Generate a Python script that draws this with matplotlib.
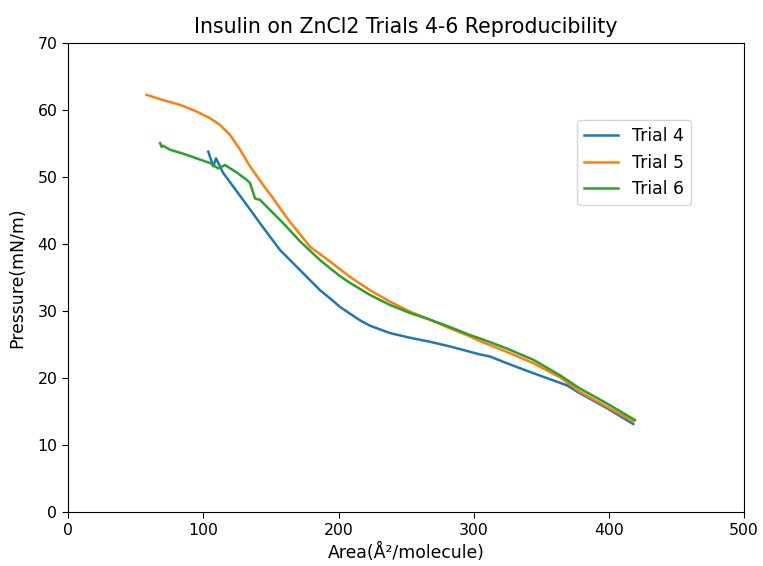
import matplotlib
matplotlib.use("Agg")
import matplotlib.pyplot as plt

trial4_x = [103.6, 107.3, 109.3, 114.7, 124.6, 127.1, 136.9, 141.9, 156.7, 171.5, 186.3, 193.6, 201.1, 208.4, 215.9, 223.2, 238.0, 252.8, 267.6, 282.4, 297.2, 304.6, 312.0, 324.4, 344.1, 368.8, 378.6, 398.4, 418.1]
trial4_y = [53.8, 51.6, 52.8, 50.6, 47.9, 47.2, 44.5, 43.1, 39.1, 36.1, 33.1, 31.9, 30.6, 29.6, 28.6, 27.8, 26.7, 26.0, 25.4, 24.7, 23.9, 23.5, 23.2, 22.2, 20.7, 18.9, 17.7, 15.5, 13.1]

trial5_x = [58.0, 70.3, 82.7, 95.0, 104.9, 112.3, 119.7, 127.1, 134.5, 144.3, 151.7, 160.4, 164.1, 178.9, 193.6, 208.4, 223.2, 238.0, 252.8, 267.6, 282.4, 297.2, 304.6, 312.0, 324.4, 344.1, 363.8, 378.6, 398.4, 418.1]
trial5_y = [62.3, 61.5, 60.8, 59.8, 58.8, 57.8, 56.3, 54.1, 51.6, 48.8, 46.8, 44.3, 43.3, 39.6, 37.4, 35.1, 33.1, 31.4, 29.9, 28.7, 27.4, 26.2, 25.5, 24.9, 23.9, 22.2, 20.1, 17.9, 15.7, 13.5]

trial6_x = [67.9, 69.1, 70.0, 75.2, 85.1, 95.0, 104.9, 111.0, 116.0, 124.6, 132.0, 134.5, 138.2, 141.9, 146.8, 151.7, 159.1, 171.5, 186.3, 193.6, 201.1, 208.4, 223.2, 238.0, 252.8, 267.6, 282.4, 297.2, 304.6, 324.4, 344.1, 363.8, 378.6, 398.4, 419.3]
trial6_y = [55.1, 54.5, 54.7, 54.1, 53.5, 52.8, 52.1, 51.3, 51.8, 50.7, 49.6, 49.1, 46.8, 46.6, 45.6, 44.6, 43.1, 40.4, 37.6, 36.4, 35.2, 34.2, 32.4, 30.9, 29.7, 28.7, 27.6, 26.4, 25.9, 24.4, 22.7, 20.4, 18.4, 16.2, 13.7]

fig = plt.figure(figsize=(7.63, 5.66), dpi=100)
ax = fig.add_axes([0.0895, 0.0959, 0.8856, 0.8276])
ax.plot(trial4_x, trial4_y, label="Trial 4", color="#1f77b4", lw=1.8)
ax.plot(trial5_x, trial5_y, label="Trial 5", color="#ff7f0e", lw=1.8)
ax.plot(trial6_x, trial6_y, label="Trial 6", color="#2ca02c", lw=1.8)
ax.set_xlim(0, 500)
ax.set_ylim(0, 70)
ax.tick_params(labelsize=11.3, length=4.4)
ax.set_title("Insulin on ZnCl2 Trials 4-6 Reproducibility", fontsize=14.8, pad=7.5)
ax.set_xlabel("Area(Å²/molecule)", fontsize=12.4, labelpad=4)
ax.set_ylabel("Pressure(mN/m)", fontsize=12.4, labelpad=8)
ax.legend(loc="upper left", bbox_to_anchor=(0.753, 0.836), borderaxespad=0, fontsize=12.4)
fig.savefig("out.png", dpi=100)
